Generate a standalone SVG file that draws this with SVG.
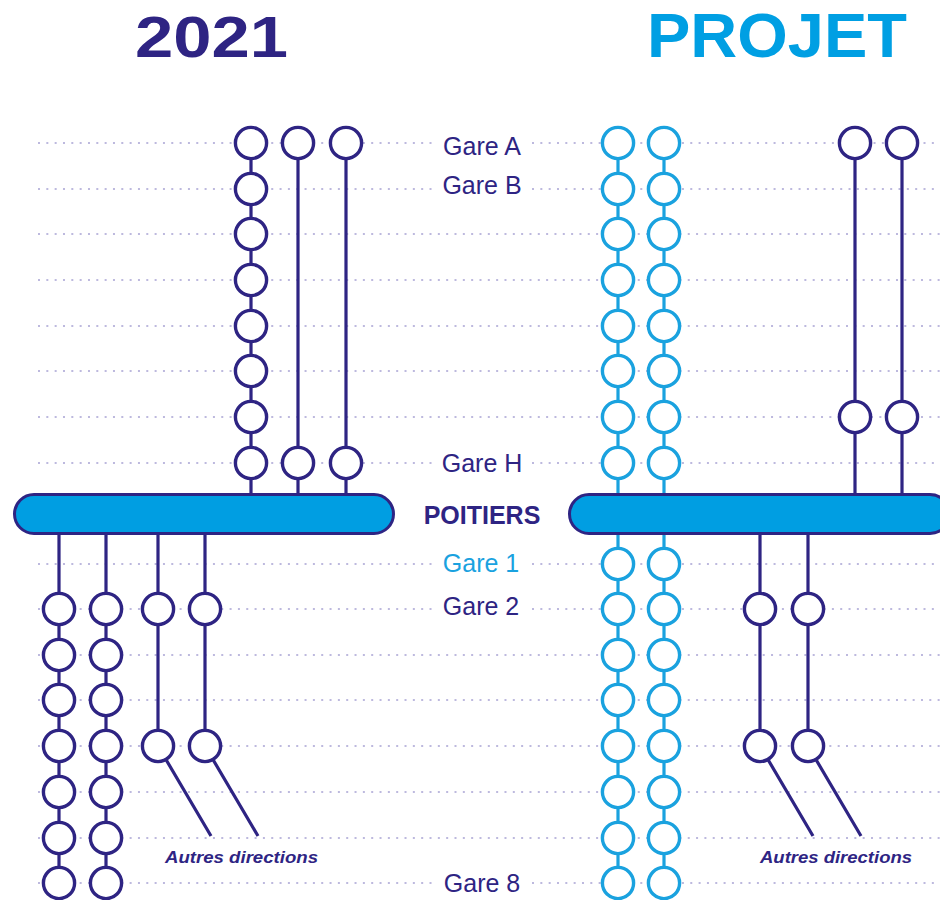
<svg xmlns="http://www.w3.org/2000/svg" width="940" height="900" viewBox="0 0 940 900">
<style>
.dot{stroke:#bdb9de;stroke-width:2;stroke-dasharray:2 6.33;fill:none}
.cn{stroke:#2e2483;stroke-width:3.2;fill:none}
.cb{stroke:#1aa2df;stroke-width:3.2;fill:none}
.sn{fill:#fff;stroke:#2e2483;stroke-width:3.4}
.sb{fill:#fff;stroke:#1aa2df;stroke-width:3.4}
.bar{fill:#009ee2;stroke:#2e2483;stroke-width:3}
.lbl{font-family:"Liberation Sans",Arial,sans-serif;font-size:25px;fill:#2e2483;text-anchor:middle}
.ad{font-family:"Liberation Sans",Arial,sans-serif;font-size:17px;font-style:italic;font-weight:bold;fill:#2e2483}
.ttl{font-family:"Liberation Sans",Arial,sans-serif;font-weight:bold}
</style>
<rect width="940" height="900" fill="#fff"/>
<g id="grid">
<path class="dot" d="M38 143H433M532 143H940M38 189H433M532 189H940M38 234H940M38 280H940M38 326H940M38 371H940M38 417H940M38 463H433M532 463H940M38 564H433M532 564H940M38 609H433M532 609H940M38 655H940M38 700H940M38 746H940M38 792H940M38 838H940M38 883H433M532 883H940"/>
</g>
<g id="connectors">
<path class="cn" d="M251 143V494M298 143V494M346 143V494"/>
<path class="cn" d="M59 534V883M106 534V883M158 534V746L211 836M205 534V746L258 836"/>
<path class="cb" d="M618 143V883M664 143V883"/>
<path class="cn" d="M855 143V494M902 143V494"/>
<path class="cn" d="M760 534V746L813 836M808 534V746L861 836"/>
</g>
<g id="bar-2021"><rect class="bar" x="14.5" y="494.5" width="379" height="39" rx="19.5"/></g>
<g id="bar-projet"><rect class="bar" x="569.5" y="494.5" width="380" height="39" rx="19.5"/></g>
<g id="s21-c1-1"><circle class="sn" cx="251" cy="143" r="15.6"/></g>
<g id="s21-c1-2"><circle class="sn" cx="251" cy="189" r="15.6"/></g>
<g id="s21-c1-3"><circle class="sn" cx="251" cy="234" r="15.6"/></g>
<g id="s21-c1-4"><circle class="sn" cx="251" cy="280" r="15.6"/></g>
<g id="s21-c1-5"><circle class="sn" cx="251" cy="326" r="15.6"/></g>
<g id="s21-c1-6"><circle class="sn" cx="251" cy="371" r="15.6"/></g>
<g id="s21-c1-7"><circle class="sn" cx="251" cy="417" r="15.6"/></g>
<g id="s21-c1-8"><circle class="sn" cx="251" cy="463" r="15.6"/></g>
<g id="s21-c2-1"><circle class="sn" cx="298" cy="143" r="15.6"/></g>
<g id="s21-c2-8"><circle class="sn" cx="298" cy="463" r="15.6"/></g>
<g id="s21-c3-1"><circle class="sn" cx="346" cy="143" r="15.6"/></g>
<g id="s21-c3-8"><circle class="sn" cx="346" cy="463" r="15.6"/></g>
<g id="s21-d1-2"><circle class="sn" cx="59" cy="609" r="15.6"/></g>
<g id="s21-d1-3"><circle class="sn" cx="59" cy="655" r="15.6"/></g>
<g id="s21-d1-4"><circle class="sn" cx="59" cy="700" r="15.6"/></g>
<g id="s21-d1-5"><circle class="sn" cx="59" cy="746" r="15.6"/></g>
<g id="s21-d1-6"><circle class="sn" cx="59" cy="792" r="15.6"/></g>
<g id="s21-d1-7"><circle class="sn" cx="59" cy="838" r="15.6"/></g>
<g id="s21-d1-8"><circle class="sn" cx="59" cy="883" r="15.6"/></g>
<g id="s21-d2-2"><circle class="sn" cx="106" cy="609" r="15.6"/></g>
<g id="s21-d2-3"><circle class="sn" cx="106" cy="655" r="15.6"/></g>
<g id="s21-d2-4"><circle class="sn" cx="106" cy="700" r="15.6"/></g>
<g id="s21-d2-5"><circle class="sn" cx="106" cy="746" r="15.6"/></g>
<g id="s21-d2-6"><circle class="sn" cx="106" cy="792" r="15.6"/></g>
<g id="s21-d2-7"><circle class="sn" cx="106" cy="838" r="15.6"/></g>
<g id="s21-d2-8"><circle class="sn" cx="106" cy="883" r="15.6"/></g>
<g id="s21-d3-2"><circle class="sn" cx="158" cy="609" r="15.6"/></g>
<g id="s21-d3-5"><circle class="sn" cx="158" cy="746" r="15.6"/></g>
<g id="s21-d4-2"><circle class="sn" cx="205" cy="609" r="15.6"/></g>
<g id="s21-d4-5"><circle class="sn" cx="205" cy="746" r="15.6"/></g>
<g id="sp-b1-1"><circle class="sb" cx="618" cy="143" r="15.6"/></g>
<g id="sp-b1-2"><circle class="sb" cx="618" cy="189" r="15.6"/></g>
<g id="sp-b1-3"><circle class="sb" cx="618" cy="234" r="15.6"/></g>
<g id="sp-b1-4"><circle class="sb" cx="618" cy="280" r="15.6"/></g>
<g id="sp-b1-5"><circle class="sb" cx="618" cy="326" r="15.6"/></g>
<g id="sp-b1-6"><circle class="sb" cx="618" cy="371" r="15.6"/></g>
<g id="sp-b1-7"><circle class="sb" cx="618" cy="417" r="15.6"/></g>
<g id="sp-b1-8"><circle class="sb" cx="618" cy="463" r="15.6"/></g>
<g id="sp-b1-9"><circle class="sb" cx="618" cy="564" r="15.6"/></g>
<g id="sp-b1-10"><circle class="sb" cx="618" cy="609" r="15.6"/></g>
<g id="sp-b1-11"><circle class="sb" cx="618" cy="655" r="15.6"/></g>
<g id="sp-b1-12"><circle class="sb" cx="618" cy="700" r="15.6"/></g>
<g id="sp-b1-13"><circle class="sb" cx="618" cy="746" r="15.6"/></g>
<g id="sp-b1-14"><circle class="sb" cx="618" cy="792" r="15.6"/></g>
<g id="sp-b1-15"><circle class="sb" cx="618" cy="838" r="15.6"/></g>
<g id="sp-b1-16"><circle class="sb" cx="618" cy="883" r="15.6"/></g>
<g id="sp-b2-1"><circle class="sb" cx="664" cy="143" r="15.6"/></g>
<g id="sp-b2-2"><circle class="sb" cx="664" cy="189" r="15.6"/></g>
<g id="sp-b2-3"><circle class="sb" cx="664" cy="234" r="15.6"/></g>
<g id="sp-b2-4"><circle class="sb" cx="664" cy="280" r="15.6"/></g>
<g id="sp-b2-5"><circle class="sb" cx="664" cy="326" r="15.6"/></g>
<g id="sp-b2-6"><circle class="sb" cx="664" cy="371" r="15.6"/></g>
<g id="sp-b2-7"><circle class="sb" cx="664" cy="417" r="15.6"/></g>
<g id="sp-b2-8"><circle class="sb" cx="664" cy="463" r="15.6"/></g>
<g id="sp-b2-9"><circle class="sb" cx="664" cy="564" r="15.6"/></g>
<g id="sp-b2-10"><circle class="sb" cx="664" cy="609" r="15.6"/></g>
<g id="sp-b2-11"><circle class="sb" cx="664" cy="655" r="15.6"/></g>
<g id="sp-b2-12"><circle class="sb" cx="664" cy="700" r="15.6"/></g>
<g id="sp-b2-13"><circle class="sb" cx="664" cy="746" r="15.6"/></g>
<g id="sp-b2-14"><circle class="sb" cx="664" cy="792" r="15.6"/></g>
<g id="sp-b2-15"><circle class="sb" cx="664" cy="838" r="15.6"/></g>
<g id="sp-b2-16"><circle class="sb" cx="664" cy="883" r="15.6"/></g>
<g id="sp-n1-1"><circle class="sn" cx="855" cy="143" r="15.6"/></g>
<g id="sp-n1-7"><circle class="sn" cx="855" cy="417" r="15.6"/></g>
<g id="sp-n2-1"><circle class="sn" cx="902" cy="143" r="15.6"/></g>
<g id="sp-n2-7"><circle class="sn" cx="902" cy="417" r="15.6"/></g>
<g id="sp-d1-2"><circle class="sn" cx="760" cy="609" r="15.6"/></g>
<g id="sp-d1-5"><circle class="sn" cx="760" cy="746" r="15.6"/></g>
<g id="sp-d2-2"><circle class="sn" cx="808" cy="609" r="15.6"/></g>
<g id="sp-d2-5"><circle class="sn" cx="808" cy="746" r="15.6"/></g>
<g id="titles">
<text class="ttl" x="135" y="57" font-size="58" fill="#2e2483" textLength="153" lengthAdjust="spacingAndGlyphs">2021</text>
<text class="ttl" x="647" y="57" font-size="63" fill="#009fe3" textLength="260" lengthAdjust="spacingAndGlyphs">PROJET</text>
</g>
<g id="labels">
<text class="lbl" x="482" y="155">Gare A</text>
<text class="lbl" x="482" y="194">Gare B</text>
<text class="lbl" x="482" y="472">Gare H</text>
<text class="lbl" x="482" y="524" font-weight="bold">POITIERS</text>
<text class="lbl" x="481" y="572" style="fill:#1aa2df">Gare 1</text>
<text class="lbl" x="481" y="615">Gare 2</text>
<text class="lbl" x="482" y="892">Gare 8</text>
<text class="ad" x="165" y="863" textLength="153" lengthAdjust="spacingAndGlyphs">Autres directions</text>
<text class="ad" x="760" y="863" textLength="152" lengthAdjust="spacingAndGlyphs">Autres directions</text>
</g>
</svg>
